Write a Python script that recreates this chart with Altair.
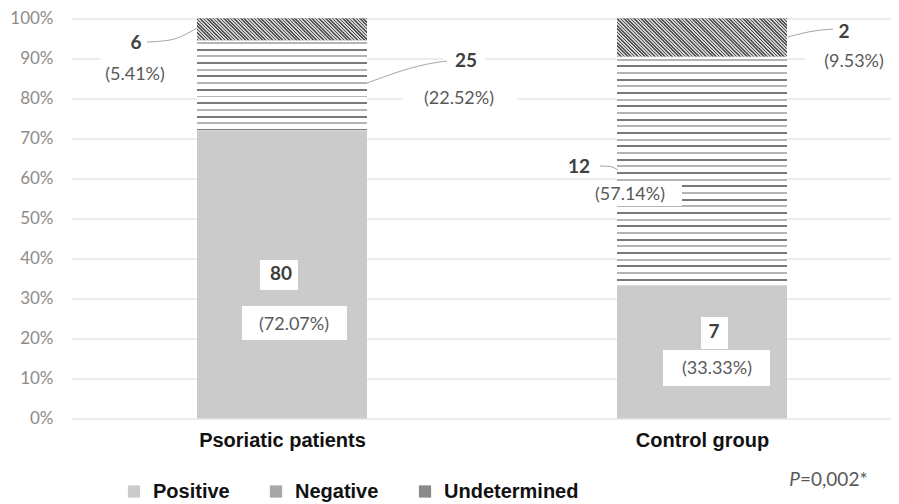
import json
import altair as alt
import pandas as pd

# ---------------- data ----------------
groups = ["Psoriatic patients", "Control group"]
categories = ["Positive", "Negative", "Undetermined"]
counts_positive = [80, 7]
counts_negative = [25, 12]
counts_undetermined = [6, 2]
pct_positive = [72.07, 33.33]
pct_negative = [22.52, 57.14]
pct_undetermined = [5.41, 9.53]
y_ticks = [0, 10, 20, 30, 40, 50, 60, 70, 80, 90, 100]
p_value = "0,002*"

counts = {"Positive": counts_positive, "Negative": counts_negative, "Undetermined": counts_undetermined}
pcts = {"Positive": pct_positive, "Negative": pct_negative, "Undetermined": pct_undetermined}

# ---------------- layout ----------------
W, H = 819, 400
PAD_L, PAD_T, PAD_B = 64, 10.5, 85
X_DOMAIN = [-0.5, 1.45]
PX_X = W / (X_DOMAIN[1] - X_DOMAIN[0])
PX_Y = H / 100.0
OX, OY = 8 + PAD_L, 8 + PAD_T
BAR_HALF = 85 / PX_X


def dx(px):
    return X_DOMAIN[0] + (px - OX) / PX_X


def dy(py):
    return (OY + H - py) / PX_Y


# label anchors in page pixels (group, category) -> (x, y)
count_pos = {
    (0, "Positive"): (281, 274), (0, "Negative"): (466, 61), (0, "Undetermined"): (136, 43),
    (1, "Positive"): (714, 332), (1, "Negative"): (579, 167), (1, "Undetermined"): (844, 32),
}
pct_pos = {
    (0, "Positive"): (294, 325), (0, "Negative"): (459, 99), (0, "Undetermined"): (135, 75),
    (1, "Positive"): (717, 369), (1, "Negative"): (630, 195), (1, "Undetermined"): (854, 62),
}
boxes_px = [
    (279, 275, 38, 30), (294.5, 323, 105, 34),
    (714.5, 333, 27, 32), (716.5, 368, 107, 36),
    (464, 60, 42, 26), (460, 99, 115, 28),
    (148, 59, 96, 56),
    (633.5, 194.5, 97, 23),
    (854, 62, 98, 26),
]
leaders_px = {
    "u0": [(147, 42), (170, 40), (197, 28)],
    "n0": [(367, 83), (433, 63), (447, 61)],
    "n1": [(600, 166), (610, 166.5), (618, 170)],
    "u1": [(788, 37), (817, 30.5), (833, 29)],
}

# ---------------- tables ----------------
rows = []
for gi, g in enumerate(groups):
    base_y = 0.0
    for c in categories:
        p = pcts[c][gi]
        rows.append({"group": g, "gi": gi, "category": c, "pct": p,
                     "x0": gi - BAR_HALF, "x1": gi + BAR_HALF, "y0": base_y, "y1": base_y + p})
        base_y += p
bars = pd.DataFrame(rows)

count_df = pd.DataFrame([
    {"x": dx(count_pos[(gi, c)][0]), "y": dy(count_pos[(gi, c)][1]), "t": str(counts[c][gi])}
    for gi in range(len(groups)) for c in categories
])
pct_df = pd.DataFrame([
    {"x": dx(pct_pos[(gi, c)][0]), "y": dy(pct_pos[(gi, c)][1]), "t": f"({pcts[c][gi]:.2f}%)"}
    for gi in range(len(groups)) for c in categories
])
box_df = pd.DataFrame([
    {"x0": dx(cx - w / 2), "x1": dx(cx + w / 2), "y0": dy(cy + h / 2), "y1": dy(cy - h / 2)}
    for cx, cy, w, h in boxes_px
])
lead_df = pd.DataFrame([
    {"id": k, "o": i, "x": dx(px), "y": dy(py)}
    for k, pts in leaders_px.items() for i, (px, py) in enumerate(pts)
])

xs = alt.Scale(domain=X_DOMAIN, nice=False, zero=False)
ys = alt.Scale(domain=[0, 100], nice=False, zero=False)

x_axis = alt.Axis(values=[0, 1], labelExpr=f"{json.dumps(groups)}[datum.value]",
                  grid=False, domain=False, ticks=False, labelPadding=12,
                  labelFont="Liberation Sans", labelFontWeight="bold", labelFontSize=20,
                  labelColor="#111111", labelFlush=False, labelOverlap=False)
y_axis = alt.Axis(values=y_ticks, labelExpr="datum.value + '%'",
                  grid=True, gridColor="#d9d9d9", gridWidth=1, domain=False, ticks=False,
                  labelOverlap=False, labelFlush=False, labelBound=False,
                  labelPadding=19, labelFont="Lato", labelFontSize=17, labelColor="#8c8c8c")


def X(f):
    return alt.X(f, type="quantitative", scale=xs, axis=x_axis, title=None)


def Y(f):
    return alt.Y(f, type="quantitative", scale=ys, axis=y_axis, title=None)


# ---------------- pattern gradients ----------------
def hstripes(h_px, period, thick, colors, bg="#ffffff", start=2.0):
    stops = [alt.GradientStop(offset=0, color=bg)]
    y = start
    i = 0
    while y < h_px:
        a, b = y / h_px, min(y + thick, h_px) / h_px
        col = colors[i % len(colors)]
        stops += [alt.GradientStop(offset=a, color=bg), alt.GradientStop(offset=a, color=col),
                  alt.GradientStop(offset=b, color=col), alt.GradientStop(offset=b, color=bg)]
        y += period
        i += 1
    stops.append(alt.GradientStop(offset=1, color=bg))
    return alt.LinearGradient(gradient="linear", stops=stops, x1=0, y1=0, x2=0, y2=1)


def dstripes(w_px, h_px, period, thick, col, bg):
    span = w_px + h_px
    k = (w_px + h_px) / (w_px ** 2 + h_px ** 2)
    stops = [alt.GradientStop(offset=0, color=bg)]
    c = 0.0
    while c < span:
        a, b = c / span, min(c + thick, span) / span
        stops += [alt.GradientStop(offset=a, color=bg), alt.GradientStop(offset=a, color=col),
                  alt.GradientStop(offset=b, color=col), alt.GradientStop(offset=b, color=bg)]
        c += period
    stops.append(alt.GradientStop(offset=1, color=bg))
    return alt.LinearGradient(gradient="linear", stops=stops, x1=0, y1=1, x2=k * w_px, y2=1 - k * h_px)


# ---------------- layers ----------------
base = alt.Chart(bars).mark_rect().encode(
    x=X("x0"), x2="x1", y=Y("y0"), y2="y1",
    color=alt.Color("category:N", scale=alt.Scale(domain=categories, range=["#cbcbcb", "#a8a8a8", "#8a8a8a"]),
                    legend=alt.Legend(orient="none", legendX=52, legendY=463, direction="horizontal",
                                      title=None, symbolType="square", symbolSize=150, symbolStrokeWidth=0,
                                      symbolOpacity=1, labelFont="Liberation Sans", labelFontWeight="bold",
                                      labelFontSize=20, labelColor="#111111", columnPadding=36,
                                      labelOffset=9)),
)

overlays = []
for _, r in bars.iterrows():
    hpx = r["pct"] * PX_Y
    wpx = 2 * BAR_HALF * PX_X
    if r["category"] == "Negative":
        grad = hstripes(hpx, 6.67, 2.0, ["#b4b4b4", "#7a7a7a"])
    elif r["category"] == "Undetermined":
        grad = dstripes(wpx, hpx, 3.4, 1.6, "#555555", "#d0d0d0")
    else:
        continue
    overlays.append(
        alt.Chart(bars[(bars.gi == r["gi"]) & (bars.category == r["category"])])
        .mark_rect(color=grad).encode(x=X("x0"), x2="x1", y=Y("y0"), y2="y1")
    )

boxes = alt.Chart(box_df).mark_rect(color="#ffffff").encode(x=X("x0"), x2="x1", y=Y("y0"), y2="y1")
leaders = alt.Chart(lead_df).mark_line(color="#a6a6a6", strokeWidth=1, interpolate="monotone").encode(
    x=X("x"), y=Y("y"), detail="id:N", order="o:Q")
count_txt = alt.Chart(count_df).mark_text(font="Lato", fontWeight="bold", fontSize=19, color="#404040",
                                          baseline="middle").encode(x=X("x"), y=Y("y"), text="t:N")
pct_txt = alt.Chart(pct_df).mark_text(font="Lato", fontSize=18, color="#595959",
                                      baseline="middle").encode(x=X("x"), y=Y("y"), text="t:N")
pv_df = pd.DataFrame([{"x": dx(800), "y": dy(480), "t": "P"}])
pv_df2 = pd.DataFrame([{"x": dx(800), "y": dy(480), "t": "=" + p_value}])
pv1 = alt.Chart(pv_df).mark_text(font="Lato", fontSize=19, fontStyle="italic", color="#595959",
                                 align="right", baseline="middle").encode(x=X("x"), y=Y("y"), text="t:N")
pv2 = alt.Chart(pv_df2).mark_text(font="Lato", fontSize=19, color="#595959",
                                  align="left", baseline="middle").encode(x=X("x"), y=Y("y"), text="t:N")

chart = alt.layer(base, *overlays, boxes, leaders, count_txt, pct_txt, pv1, pv2).properties(
    width=W, height=H,
    autosize=alt.AutoSizeParams(type="none"),
    padding={"left": PAD_L, "top": PAD_T, "right": 0, "bottom": PAD_B},
).configure_view(stroke=None)

chart.save("out.html", embed_options={"renderer": "svg", "actions": False})
